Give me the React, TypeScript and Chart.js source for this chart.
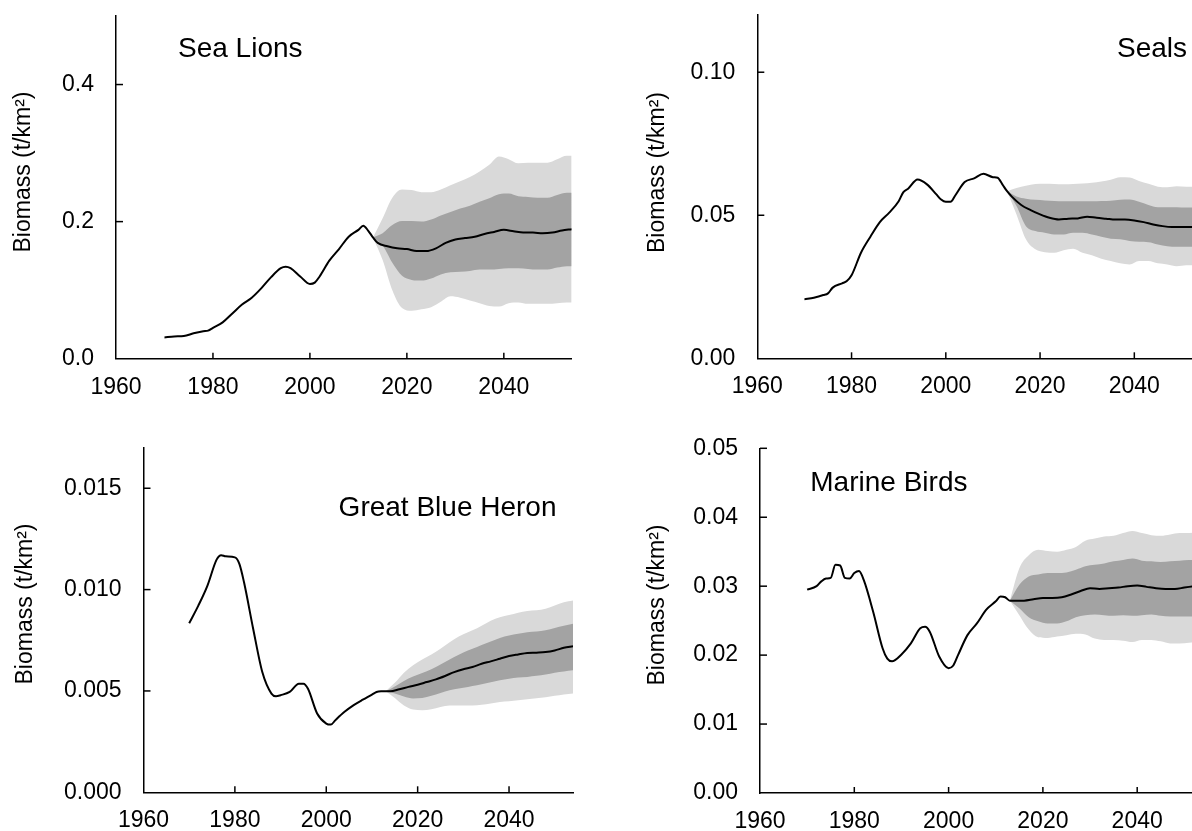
import React, { useEffect, useRef } from 'react';
import { Chart, registerables } from 'chart.js';

Chart.register(...registerables);

// ---------- shared axis data ----------
const X_MIN = 1960;
const X_MAX = 2054;
const X_STEP = 20;
const Y_LABEL = 'Biomass (t/km\u00B2)';

// projection years for the uncertainty bands
const bandYears = [2013, 2015, 2017, 2019, 2021, 2023, 2025, 2027, 2029, 2031, 2033, 2035, 2037, 2039, 2041, 2043, 2045, 2047, 2049, 2051, 2053, 2054];

// ---------- Sea Lions ----------
const seaLionYears = [1970, 1972, 1974, 1976, 1978, 1979, 1980, 1982, 1984, 1986, 1988, 1990, 1992, 1994, 1995, 1996, 1998, 2000, 2001, 2002, 2004, 2006, 2008, 2010, 2011, 2012, 2013, 2014, 2016, 2018, 2020, 2022, 2024, 2026, 2028, 2030, 2032, 2034, 2036, 2038, 2040, 2042, 2044, 2046, 2048, 2050, 2052, 2054];
const seaLionMedian = [0.031, 0.0325, 0.033, 0.037, 0.040, 0.041, 0.045, 0.053, 0.066, 0.079, 0.089, 0.103, 0.119, 0.132, 0.134, 0.132, 0.120, 0.109, 0.111, 0.120, 0.143, 0.160, 0.178, 0.188, 0.194, 0.187, 0.177, 0.169, 0.164, 0.161, 0.160, 0.157, 0.157, 0.161, 0.169, 0.174, 0.176, 0.178, 0.182, 0.185, 0.188, 0.186, 0.184, 0.184, 0.183, 0.184, 0.187, 0.189];
const seaLionOuterUpper = [0.177, 0.205, 0.235, 0.247, 0.246, 0.243, 0.243, 0.247, 0.253, 0.259, 0.265, 0.273, 0.283, 0.295, 0.291, 0.285, 0.286, 0.286, 0.286, 0.291, 0.296, 0.296];
const seaLionOuterLower = [0.177, 0.144, 0.100, 0.074, 0.070, 0.072, 0.075, 0.083, 0.091, 0.089, 0.085, 0.081, 0.077, 0.076, 0.081, 0.082, 0.080, 0.080, 0.080, 0.081, 0.082, 0.082];
const seaLionInnerUpper = [0.177, 0.183, 0.195, 0.201, 0.201, 0.200, 0.203, 0.209, 0.214, 0.219, 0.223, 0.229, 0.234, 0.240, 0.241, 0.237, 0.236, 0.235, 0.235, 0.239, 0.242, 0.242];
const seaLionInnerLower = [0.177, 0.165, 0.140, 0.121, 0.115, 0.114, 0.117, 0.123, 0.126, 0.127, 0.128, 0.130, 0.130, 0.131, 0.132, 0.132, 0.131, 0.130, 0.130, 0.133, 0.135, 0.135];

// ---------- Seals ----------
const sealYears = [1970, 1972, 1974, 1975, 1976, 1978, 1979, 1980, 1982, 1984, 1986, 1988, 1990, 1991, 1992, 1994, 1996, 1998, 1999, 2000, 2001, 2002, 2004, 2006, 2008, 2010, 2011, 2012, 2013, 2014, 2016, 2018, 2020, 2022, 2024, 2026, 2028, 2030, 2032, 2034, 2036, 2038, 2040, 2042, 2044, 2046, 2048, 2050, 2052, 2054];
const sealMedian = [0.0206, 0.0212, 0.0221, 0.0227, 0.0247, 0.0262, 0.0270, 0.0290, 0.0369, 0.0425, 0.0476, 0.0509, 0.0549, 0.0581, 0.0593, 0.0625, 0.0608, 0.0573, 0.0555, 0.0547, 0.0547, 0.0569, 0.0616, 0.0629, 0.0645, 0.0633, 0.0631, 0.0608, 0.0584, 0.0565, 0.0536, 0.0518, 0.0503, 0.0491, 0.0485, 0.0488, 0.0489, 0.0495, 0.0491, 0.0488, 0.0485, 0.0485, 0.0482, 0.0476, 0.0468, 0.0462, 0.0459, 0.0459, 0.0459, 0.0459];
const sealOuterUpper = [0.0584, 0.0595, 0.0603, 0.0609, 0.0610, 0.0609, 0.0608, 0.0609, 0.0611, 0.0614, 0.0618, 0.0624, 0.0633, 0.0632, 0.0620, 0.0610, 0.0600, 0.0598, 0.0601, 0.0600, 0.0600, 0.0600];
const sealOuterLower = [0.0584, 0.0503, 0.0416, 0.0381, 0.0371, 0.0369, 0.0378, 0.0383, 0.0369, 0.0360, 0.0348, 0.0340, 0.0332, 0.0328, 0.0340, 0.0340, 0.0332, 0.0328, 0.0322, 0.0325, 0.0325, 0.0325];
const sealInnerUpper = [0.0584, 0.0566, 0.0558, 0.0554, 0.0552, 0.0550, 0.0549, 0.0549, 0.0549, 0.0549, 0.0550, 0.0551, 0.0554, 0.0555, 0.0547, 0.0536, 0.0528, 0.0528, 0.0528, 0.0527, 0.0527, 0.0527];
const sealInnerLower = [0.0584, 0.0532, 0.0462, 0.0445, 0.0439, 0.0433, 0.0433, 0.0439, 0.0439, 0.0433, 0.0425, 0.0418, 0.0416, 0.0410, 0.0407, 0.0406, 0.0398, 0.0392, 0.0390, 0.0390, 0.0390, 0.0390];

// ---------- Great Blue Heron ----------
const heronYears = [1970, 1972, 1974, 1976, 1977, 1978, 1980, 1981, 1982, 1984, 1986, 1988, 1989, 1990, 1992, 1994, 1995, 1996, 1998, 2000, 2001, 2002, 2004, 2006, 2008, 2010, 2011, 2012, 2014, 2016, 2018, 2020, 2022, 2024, 2026, 2028, 2030, 2032, 2034, 2036, 2038, 2040, 2042, 2044, 2046, 2048, 2050, 2052, 2054];
const heronMedian = [0.00834, 0.00921, 0.0102, 0.01148, 0.0117, 0.01164, 0.01159, 0.01126, 0.01036, 0.00807, 0.00593, 0.00487, 0.00474, 0.00479, 0.00495, 0.00536, 0.00536, 0.00511, 0.00389, 0.00339, 0.00334, 0.00356, 0.00397, 0.00430, 0.00457, 0.00482, 0.00495, 0.00498, 0.00498, 0.00508, 0.00520, 0.00531, 0.00544, 0.00557, 0.00574, 0.00593, 0.00607, 0.00618, 0.00634, 0.00646, 0.00659, 0.00672, 0.00680, 0.00687, 0.00689, 0.00692, 0.00700, 0.00713, 0.00721];
const heronOuterUpper = [0.00498, 0.00540, 0.00590, 0.00627, 0.00655, 0.00680, 0.00708, 0.00740, 0.00768, 0.00790, 0.00809, 0.00834, 0.00856, 0.00870, 0.00880, 0.00891, 0.00897, 0.00901, 0.00913, 0.00930, 0.00942, 0.00946];
const heronOuterLower = [0.00498, 0.00465, 0.00428, 0.00408, 0.00405, 0.00410, 0.00421, 0.00428, 0.00428, 0.00428, 0.00430, 0.00434, 0.00442, 0.00448, 0.00452, 0.00457, 0.00461, 0.00466, 0.00473, 0.00479, 0.00485, 0.00487];
const heronInnerUpper = [0.00498, 0.00522, 0.00549, 0.00571, 0.00589, 0.00607, 0.00630, 0.00655, 0.00678, 0.00699, 0.00717, 0.00735, 0.00753, 0.00768, 0.00778, 0.00786, 0.00792, 0.00796, 0.00804, 0.00817, 0.00827, 0.00831];
const heronInnerLower = [0.00498, 0.00488, 0.00473, 0.00463, 0.00465, 0.00476, 0.00490, 0.00503, 0.00512, 0.00520, 0.00528, 0.00538, 0.00548, 0.00556, 0.00564, 0.00567, 0.00573, 0.00578, 0.00585, 0.00593, 0.00600, 0.00602];

// ---------- Marine Birds ----------
const birdYears = [1970, 1972, 1973, 1974, 1975, 1976, 1977, 1978, 1979, 1980, 1981, 1982, 1984, 1986, 1987, 1988, 1990, 1992, 1994, 1995, 1996, 1998, 2000, 2001, 2002, 2004, 2006, 2008, 2010, 2011, 2012, 2013, 2014, 2016, 2018, 2020, 2022, 2024, 2026, 2028, 2030, 2032, 2034, 2036, 2038, 2040, 2042, 2044, 2046, 2048, 2050, 2052, 2054];
const birdMedian = [0.0295, 0.0300, 0.0307, 0.0311, 0.0312, 0.0331, 0.0330, 0.0312, 0.0311, 0.0319, 0.0322, 0.0309, 0.0263, 0.0210, 0.0195, 0.0191, 0.0201, 0.0217, 0.0239, 0.0241, 0.0234, 0.0198, 0.0181, 0.0185, 0.0200, 0.0229, 0.0246, 0.0266, 0.0278, 0.0285, 0.0284, 0.0279, 0.0279, 0.0279, 0.0281, 0.0283, 0.0283, 0.0284, 0.0288, 0.0293, 0.0297, 0.0296, 0.0297, 0.0298, 0.0300, 0.0301, 0.0299, 0.0297, 0.0296, 0.0296, 0.0298, 0.0300, 0.0302];
const birdOuterUpper = [0.0279, 0.0326, 0.0345, 0.0353, 0.0351, 0.0350, 0.0353, 0.0357, 0.0366, 0.0369, 0.0372, 0.0373, 0.0377, 0.0380, 0.0377, 0.0374, 0.0373, 0.0375, 0.0377, 0.0377, 0.0378, 0.0378];
const birdOuterLower = [0.0279, 0.0258, 0.0237, 0.0226, 0.0225, 0.0227, 0.0229, 0.0231, 0.0230, 0.0224, 0.0222, 0.0222, 0.0221, 0.0219, 0.0222, 0.0222, 0.0220, 0.0217, 0.0217, 0.0218, 0.0219, 0.0219];
const birdInnerUpper = [0.0279, 0.0302, 0.0314, 0.0317, 0.0319, 0.0319, 0.0320, 0.0324, 0.0329, 0.0331, 0.0333, 0.0336, 0.0338, 0.0340, 0.0337, 0.0336, 0.0335, 0.0336, 0.0337, 0.0338, 0.0338, 0.0338];
const birdInnerLower = [0.0279, 0.0268, 0.0255, 0.0249, 0.0246, 0.0246, 0.0249, 0.0255, 0.0258, 0.0259, 0.0258, 0.0257, 0.0258, 0.0257, 0.0258, 0.0259, 0.0257, 0.0256, 0.0256, 0.0256, 0.0256, 0.0256];

// ---------- styling ----------
const FONT = '"Liberation Sans", Arial, sans-serif';
const LIGHT = '#d9d9d9';
const DARK = '#a3a3a3';

const zip = (xs: number[], ys: number[]) => xs.map((x, i) => ({ x, y: ys[i] }));

const panels = [
  {
    key: 'sealions', title: 'Sea Lions', titleAlign: 'left', titleX: 178, titleY: 57,
    yMax: 0.5, yStep: 0.2, decimals: 1,
    years: seaLionYears, median: seaLionMedian,
    ou: seaLionOuterUpper, ol: seaLionOuterLower, iu: seaLionInnerUpper, il: seaLionInnerLower,
    left: 0, top: 0, w: 596, h: 415, padTop: 16, padRight: 24.3, yAxisW: 116, xAxisH: 56.3,
    yLabelX: 30, yLabelY: 172,
  },
  {
    key: 'seals', title: 'Seals', titleAlign: 'right', titleX: 591, titleY: 57,
    yMax: 0.12, yStep: 0.05, decimals: 2,
    years: sealYears, median: sealMedian,
    ou: sealOuterUpper, ol: sealOuterLower, iu: sealInnerUpper, il: sealInnerLower,
    left: 596, top: 0, w: 620, h: 415, padTop: 15, padRight: 15.7, yAxisW: 161.3, xAxisH: 56.7,
    yLabelX: 68, yLabelY: 172.5,
  },
  {
    key: 'heron', title: 'Great Blue Heron', titleAlign: 'right', titleX: 556.5, titleY: 101,
    yMax: 0.017, yStep: 0.005, decimals: 3,
    years: heronYears, median: heronMedian,
    ou: heronOuterUpper, ol: heronOuterLower, iu: heronInnerUpper, il: heronInnerLower,
    left: 0, top: 415, w: 596, h: 440, padTop: 32.7, padRight: 23, yAxisW: 143.5, xAxisH: 62.7,
    yLabelX: 32, yLabelY: 189,
  },
  {
    key: 'birds', title: 'Marine Birds', titleAlign: 'left', titleX: 214.3, titleY: 76,
    yMax: 0.05, yStep: 0.01, decimals: 2,
    years: birdYears, median: birdMedian,
    ou: birdOuterUpper, ol: birdOuterLower, iu: birdInnerUpper, il: birdInnerLower,
    left: 596, top: 415, w: 620, h: 440, padTop: 33.3, padRight: 12.8, yAxisW: 164, xAxisH: 62,
    yLabelX: 68, yLabelY: 190,
  },
];

const decorPlugin = {
  id: 'decor',
  afterDraw(chart: any, _args: any, opts: any) {
    const { ctx, chartArea, scales } = chart;
    ctx.save();
    // inward tick marks
    ctx.strokeStyle = '#000';
    ctx.lineWidth = 1.5;
    scales.x.ticks.forEach((t: any) => {
      if (t.value === X_MIN) return;
      const px = scales.x.getPixelForValue(t.value);
      ctx.beginPath();
      ctx.moveTo(px, chartArea.bottom);
      ctx.lineTo(px, chartArea.bottom - 6);
      ctx.stroke();
    });
    scales.y.ticks.forEach((t: any) => {
      if (t.value === 0) return;
      const py = scales.y.getPixelForValue(t.value);
      ctx.beginPath();
      ctx.moveTo(chartArea.left, py);
      ctx.lineTo(chartArea.left + 7, py);
      ctx.stroke();
    });
    // panel title
    ctx.fillStyle = '#000';
    ctx.font = `28px ${FONT}`;
    ctx.textAlign = opts.titleAlign;
    ctx.textBaseline = 'alphabetic';
    ctx.fillText(opts.title, opts.titleX, opts.titleY);
    // y axis title
    ctx.translate(opts.yLabelX, opts.yLabelY);
    ctx.rotate(-Math.PI / 2);
    ctx.font = `23px ${FONT}`;
    ctx.textAlign = 'center';
    ctx.textBaseline = 'alphabetic';
    ctx.fillText(Y_LABEL, 0, 0);
    ctx.restore();
  },
};

function Panel({ p }: { p: any }) {
  const ref = useRef<HTMLCanvasElement | null>(null);
  useEffect(() => {
    if (!ref.current) return;
    const bandStyle = {
      borderWidth: 0,
      borderColor: 'rgba(0,0,0,0)',
      pointRadius: 0,
      cubicInterpolationMode: 'monotone',
    };
    const chart = new Chart(ref.current, {
      type: 'line',
      data: {
        datasets: [
          {
            data: zip(p.years, p.median),
            borderColor: '#000',
            borderWidth: 2,
            pointRadius: 0,
            fill: false,
            cubicInterpolationMode: 'monotone',
          },
          { ...bandStyle, data: zip(bandYears, p.iu), backgroundColor: DARK, fill: '+1' },
          { ...bandStyle, data: zip(bandYears, p.il), fill: false },
          { ...bandStyle, data: zip(bandYears, p.ou), backgroundColor: LIGHT, fill: '+1' },
          { ...bandStyle, data: zip(bandYears, p.ol), fill: false },
        ],
      } as any,
      options: {
        responsive: false,
        animation: false,
        events: [],
        layout: { padding: { top: p.padTop, right: p.padRight, left: 0, bottom: 0 } },
        plugins: {
          legend: { display: false },
          tooltip: { enabled: false },
          decor: {
            title: p.title, titleAlign: p.titleAlign, titleX: p.titleX, titleY: p.titleY,
            yLabelX: p.yLabelX, yLabelY: p.yLabelY,
          },
        } as any,
        scales: {
          x: {
            type: 'linear',
            min: X_MIN,
            max: X_MAX,
            grid: { display: false, drawTicks: false },
            border: { display: true, color: '#000', width: 1.5 },
            ticks: {
              stepSize: X_STEP,
              includeBounds: false,
              autoSkip: false,
              maxRotation: 0,
              padding: 15,
              color: '#000',
              font: { family: FONT, size: 23 },
              callback: (v: any) => String(v),
            },
            afterFit: (s: any) => {
              s.height = p.xAxisH;
              s.paddingLeft = 0;
              s.paddingRight = 0;
            },
          },
          y: {
            type: 'linear',
            min: 0,
            max: p.yMax,
            grid: { display: false, drawTicks: false },
            border: { display: true, color: '#000', width: 1.5 },
            ticks: {
              stepSize: p.yStep,
              includeBounds: false,
              autoSkip: false,
              padding: 22,
              color: '#000',
              font: { family: FONT, size: 23 },
              callback: (v: any) => Number(v).toFixed(p.decimals),
            },
            afterFit: (s: any) => {
              s.width = p.yAxisW;
              s.paddingTop = 0;
              s.paddingBottom = 0;
            },
          },
        },
      } as any,
      plugins: [decorPlugin],
    });
    return () => chart.destroy();
  }, [p]);
  return (
    <div style={{ position: 'absolute', left: p.left, top: p.top, width: p.w, height: p.h }}>
      <canvas ref={ref} width={p.w} height={p.h} style={{ display: 'block', width: p.w, height: p.h }} />
    </div>
  );
}

export default function App() {
  return (
    <div
      style={{
        position: 'absolute',
        left: 0,
        top: 0,
        width: 1192,
        height: 831,
        overflow: 'hidden',
        background: '#fff',
      }}
    >
      {panels.map((p) => (
        <Panel key={p.key} p={p} />
      ))}
    </div>
  );
}
